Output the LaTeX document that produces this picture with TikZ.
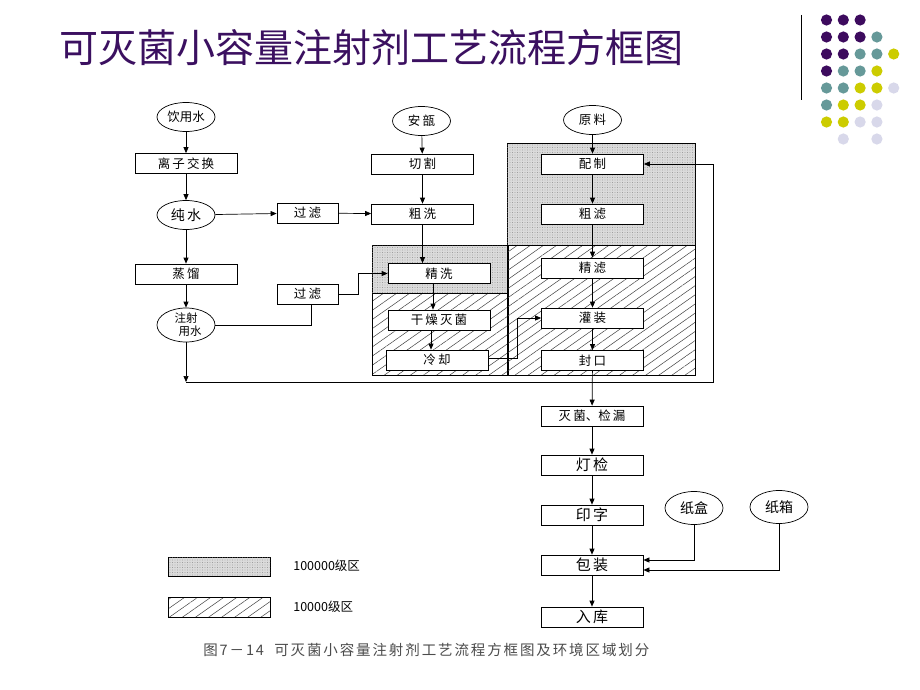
\documentclass[tikz,border=0pt]{standalone}
\usepackage{fontspec}
\newfontfamily\cjk{Noto Sans CJK SC}
\newfontfamily\cjkw[LetterSpace=13]{Noto Sans CJK SC}
\usetikzlibrary{shapes.geometric,arrows.meta,patterns.meta}
\definecolor{tpurple}{HTML}{3B1060}
\definecolor{dpurple}{HTML}{3D0B5E}
\definecolor{dteal}{HTML}{669999}
\definecolor{dyellow}{HTML}{CCCC00}
\definecolor{dlav}{HTML}{D8D8EA}
\begin{document}
\begin{tikzpicture}[x=1pt,y=-1pt,line width=0.7pt,
  arr/.style={-{Triangle[length=6pt,width=5pt]}},
  box/.style={draw,fill=white,minimum width=102pt,minimum height=20pt,inner sep=0pt,font=\cjk\fontsize{12.5}{12.5}\selectfont},
  bigbox/.style={box,font=\cjk\fontsize{15}{15}\selectfont},
  fbox/.style={box,minimum width=61pt},
  oval/.style={draw,ellipse,fill=white,minimum width=58pt,minimum height=29pt,inner sep=0pt,font=\cjk\fontsize{12.5}{12.5}\selectfont},
  dotzone/.style={draw,fill=black!14,postaction={pattern={Dots[distance=2.5pt,radius=0.45pt]},pattern color=black!50}},
  hatchzone/.style={draw,pattern={Lines[angle=35,distance=7.5pt,line width=0.5pt]},pattern color=black!75}]
\path[use as bounding box,fill=white] (0,0) rectangle (920,690);
% decoration
\draw[line width=1pt] (801,15) -- (801,100);
\foreach \c/\r/\col in {1/1/dpurple,2/1/dpurple,3/1/dpurple,
  1/2/dpurple,2/2/dpurple,3/2/dpurple,4/2/dteal,
  1/3/dpurple,2/3/dpurple,3/3/dteal,4/3/dteal,5/3/dyellow,
  1/4/dpurple,2/4/dteal,3/4/dteal,4/4/dyellow,
  1/5/dteal,2/5/dteal,3/5/dyellow,4/5/dyellow,5/5/dlav,
  1/6/dteal,2/6/dyellow,3/6/dyellow,4/6/dlav,
  1/7/dyellow,2/7/dyellow,3/7/dlav,4/7/dlav,
  2/8/dlav,4/8/dlav}
  \fill[\col] (826.5+16.8*\c-16.8, 20+17*\r-17) circle (5.6pt);
% title
\node[anchor=west,text=tpurple,font=\cjk\fontsize{39}{39}\selectfont,inner sep=0pt] (title) at (59,48) {可灭菌小容量注射剂工艺流程方框图};
% zones
\draw[dotzone] (372,245) rectangle (508,293);
\draw[hatchzone] (372,293) rectangle (508,375);
\draw[dotzone] (507,143) rectangle (695,245);
\draw[hatchzone] (507,245) rectangle (695,375);
% left column
\node[oval] (yy) at (186,117) {饮用水};
\node[box] (lz) at (186,163.5) {离\,子\,交\,换};
\node[oval,font=\cjk\fontsize{14}{14}\selectfont] (cs) at (186,215) {纯\,水};
\node[box] (zl) at (186,274) {蒸\,馏};
\node[oval,align=center,font=\cjk\fontsize{11.5}{13}\selectfont,minimum height=34pt] (zs) at (186,325) {注射\\\hspace*{8pt}用水};
\node[fbox] (gl1) at (307.5,213) {过\,滤};
\node[fbox] (gl2) at (307.5,294) {过\,滤};
% middle column
\node[oval] (ap) at (421.5,121) {安\,瓿};
\node[box] (qg) at (422.5,164) {切\,割};
\node[box] (cx) at (422.5,214) {粗\,洗};
\node[box] (jx) at (439,273.5) {精\,洗};
\node[box] (gz) at (439,320) {干\,燥\,灭\,菌};
\node[box] (lq) at (437,360) {冷\,却};
% right column
\node[oval] (yl) at (592.5,120) {原\,料};
\node[box] (pz) at (592.5,164) {配\,制};
\node[box] (cl) at (592.5,214) {粗\,滤};
\node[box] (jl) at (592.5,268) {精\,滤};
\node[box] (gzh) at (592.5,318) {灌\,装};
\node[box] (fk) at (592.5,360.5) {封\,口};
% bottom column
\node[box] (mj) at (592,416) {灭\,菌、检\,漏};
\node[bigbox] (dj) at (592,465) {灯\,检};
\node[bigbox] (yz) at (592,515) {印\,字};
\node[bigbox] (bz) at (592,565) {包\,装};
\node[bigbox] (rk) at (592,617) {入\,库};
\node[oval,font=\cjk\fontsize{14}{14}\selectfont,minimum height=33pt] (zh) at (694,508) {纸盒};
\node[oval,font=\cjk\fontsize{14}{14}\selectfont,minimum height=33pt] (zx) at (779,507) {纸箱};
% connectors left
\draw[arr] (yy) -- (lz);
\draw[arr] (lz) -- (cs);
\draw[arr] (cs) -- (zl);
\draw[arr] (zl) -- (zs);
\draw[arr] (cs) -- (gl1);
\draw[arr] (gl1) -- (cx);
\draw (zs.east) -| ([xshift=4pt]gl2.south);
\draw[arr] (gl2.east) -- ++(20,0) |- (jx.west);
\coordinate (j1) at (186,382);
\coordinate (j2) at (713,382);
\draw[arr] (zs.south) -- (j1);
\draw[arr] (j1) -- (j2) |- (pz.east);
% connectors middle
\draw[arr] (ap) -- (qg);
\draw[arr] (qg) -- (cx);
\draw[arr] (cx.south) -- (cx.south |- jx.north);
\draw[arr] ([xshift=-6pt]jx.south) -- ([xshift=-6pt]jx.south |- gz.north);
\draw[arr] ([xshift=-8pt]gz.south) -- ([xshift=-8pt]gz.south |- lq.north);
\draw[arr] ([yshift=2pt]lq.east) -- ++(29,0) |- (gzh.west);
% connectors right
\draw[arr] (yl) -- (pz);
\draw[arr] (pz) -- (cl);
\draw[arr] (cl) -- (jl);
\draw[arr] (jl) -- (gzh);
\draw[arr] (gzh) -- (fk);
\draw[arr] (fk) -- (mj);
\draw[arr] (mj) -- (dj);
\draw[arr] (dj) -- (yz);
\draw[arr] (yz) -- (bz);
\draw[arr] (bz) -- (rk);
\draw[arr] (zh.south) |- ([yshift=5pt]bz.east);
\draw[arr] (zx.south) |- ([yshift=-5pt]bz.east);
% legend
\draw[dotzone] (168,557) rectangle (270,576);
\draw[hatchzone] (168,597) rectangle (270,617);
\node[anchor=west,font=\cjk\fontsize{12.5}{12.5}\selectfont,inner sep=0pt] (lg1) at (293,566) {100000级区};
\node[anchor=west,font=\cjk\fontsize{12.5}{12.5}\selectfont,inner sep=0pt] (lg2) at (293,607) {10000级区};
% caption
\node[anchor=west,font=\cjkw\fontsize{14.5}{14.5}\selectfont,text=black!70,inner sep=0pt] (cap) at (203,650) {图7－14\ \ 可灭菌小容量注射剂工艺流程方框图及环境区域划分};
\end{tikzpicture}
\end{document}
